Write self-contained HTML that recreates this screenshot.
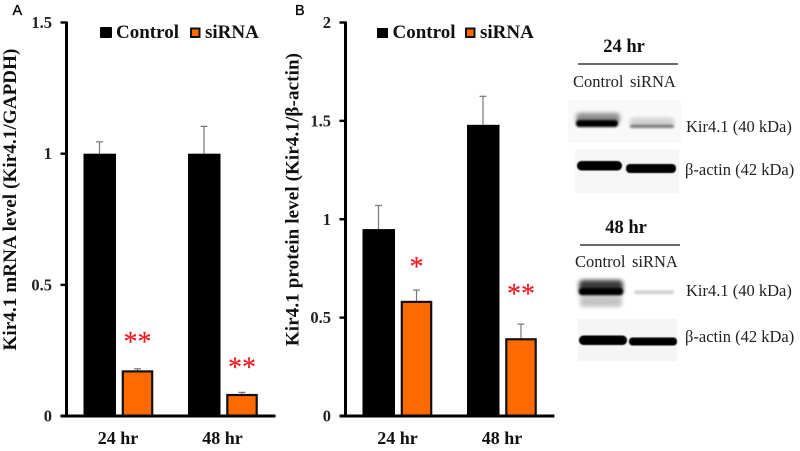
<!DOCTYPE html>
<html lang="en">
<head>
<meta charset="utf-8">
<title>Kir4.1 knockdown</title>
<style>
html,body{margin:0;padding:0;background:#fff;width:800px;height:451px;overflow:hidden}
svg{display:block;filter:blur(0.35px)}
text{font-family:"Liberation Serif",serif}
.b{font-weight:bold;fill:#111;letter-spacing:.12px}
.tick{font-weight:bold;font-size:16.5px;fill:#222}
.cat{font-weight:bold;font-size:18px;fill:#111}
.leg{font-weight:bold;font-size:19px;fill:#111}
.ttl{font-weight:bold;font-size:18.5px;fill:#111}
.pl{font-family:"Liberation Sans",sans-serif;font-size:14.5px;fill:#000;stroke:#000;stroke-width:.3}
.blot{font-size:16.5px;fill:#222}
.star{font-size:28px;fill:#f01c24;stroke:#f01c24;stroke-width:.2}
</style>
</head>
<body>
<svg id="fig" xmlns="http://www.w3.org/2000/svg" width="800" height="451" viewBox="0 0 800 451">
<defs>
<filter id="b1" x="-20%" y="-100%" width="140%" height="300%"><feGaussianBlur stdDeviation="1"/></filter>
<filter id="b2" x="-20%" y="-100%" width="140%" height="300%"><feGaussianBlur stdDeviation="2"/></filter>
<filter id="b3" x="-20%" y="-100%" width="140%" height="300%"><feGaussianBlur stdDeviation="0.6"/></filter>
</defs>

<text class="pl" x="12.5" y="15">A</text>
<text class="pl" x="295" y="15">B</text>

<g id="chartA"></g>
<g id="chartB"></g>

<g>
  <rect x="100" y="27" width="12" height="11" rx="1" fill="#000"/>
  <text class="leg" x="116" y="38">Control</text>
  <rect x="191" y="28.5" width="8.5" height="8.5" fill="#ff6a00" stroke="#111" stroke-width="2"/>
  <text class="leg" x="205" y="38">siRNA</text>
</g>
<g>
  <rect x="377" y="28" width="11" height="10" fill="#000"/>
  <text class="leg" x="392.5" y="38">Control</text>
  <rect x="466" y="28.5" width="8.5" height="8.5" fill="#ff6a00" stroke="#111" stroke-width="2"/>
  <text class="leg" x="480" y="38">siRNA</text>
</g>

<!-- Western blot 24 hr -->
<g>
  <text class="ttl" x="624" y="52" text-anchor="middle">24 hr</text>
  <line x1="578" x2="678" y1="64" y2="64" stroke="#111" stroke-width="1.3"/>
  <text class="blot" x="573" y="87">Control</text>
  <text class="blot" x="630" y="87">siRNA</text>
  <g>
    <rect x="568" y="100" width="113" height="43" fill="#f9f9f9"/>
    <rect x="576" y="113" width="44" height="11" rx="4" fill="#8e8e8e" filter="url(#b2)"/>
    <rect x="576" y="120" width="42" height="7" rx="3" fill="#000" filter="url(#b1)"/>
    <rect x="630" y="118" width="44" height="8" rx="3" fill="#cfcfcf" filter="url(#b2)"/>
    <rect x="630" y="124.5" width="44" height="3.5" rx="1.5" fill="#808080" filter="url(#b1)"/>
  </g>
  <g>
    <rect x="575" y="149" width="104" height="44" fill="#f6f6f6"/>
    <rect x="577" y="161" width="45" height="9.5" rx="4.5" fill="#000" filter="url(#b3)"/>
    <rect x="626" y="164" width="50" height="9" rx="4" fill="#000" filter="url(#b3)"/>
  </g>
  <text class="blot" x="686" y="132">Kir4.1 (40 kDa)</text>
  <text class="blot" x="685" y="175">β-actin (42 kDa)</text>
</g>

<!-- Western blot 48 hr -->
<g>
  <text class="ttl" x="626" y="233" text-anchor="middle">48 hr</text>
  <line x1="580" x2="680" y1="245" y2="245" stroke="#111" stroke-width="1.3"/>
  <text class="blot" x="575" y="267">Control</text>
  <text class="blot" x="632" y="267">siRNA</text>
  <g>
    <rect x="579" y="280" width="44" height="15" rx="4" fill="#3a3a3a" filter="url(#b2)"/>
    <rect x="580" y="296" width="42" height="11" rx="3" fill="#c4c4c4" filter="url(#b2)"/>
    <rect x="579" y="288" width="44" height="7" rx="3" fill="#000" filter="url(#b1)"/>
    <rect x="634" y="290.5" width="40" height="3.5" rx="1.5" fill="#cccccc" filter="url(#b1)"/>
  </g>
  <g>
    <rect x="578" y="319" width="99" height="42" fill="#f5f5f5"/>
    <rect x="579" y="335.5" width="48" height="9.5" rx="4.5" fill="#000" filter="url(#b3)"/>
    <rect x="629" y="337.5" width="48" height="8" rx="3.5" fill="#000" filter="url(#b3)"/>
  </g>
  <text class="blot" x="686" y="296">Kir4.1 (40 kDa)</text>
  <text class="blot" x="685" y="342">β-actin (42 kDa)</text>
</g>

<script>
var categories = ["24 hr", "48 hr"];
var mrnaControl = [1, 1];
var mrnaControlErr = [0.045, 0.104];
var mrnaSirna = [0.17, 0.08];
var mrnaSirnaErr = [0.01, 0.01];
var mrnaStars = ["**", "**"];
var mrnaTicks = [0, 0.5, 1, 1.5];
var proteinControl = [0.95, 1.48];
var proteinControlErr = [0.12, 0.145];
var proteinSirna = [0.58, 0.39];
var proteinSirnaErr = [0.06, 0.077];
var proteinStars = ["*", "**"];
var proteinTicks = [0, 0.5, 1, 1.5, 2];

var NS = 'http://www.w3.org/2000/svg';
function mk(parent, tag, attrs, txt) {
  var el = document.createElementNS(NS, tag);
  for (var k in attrs) el.setAttribute(k, attrs[k]);
  if (txt !== undefined) el.textContent = txt;
  parent.appendChild(el);
  return el;
}
function drawChart(o) {
  var g = document.getElementById(o.id);
  var y0 = 416, yTop = 22.5;
  var maxV = o.ticks[o.ticks.length - 1];
  function yS(v) { return y0 - (v / maxV) * (y0 - yTop); }
  function band(i) { return o.x0 + i * o.step; }

  o.control.forEach(function (v, i) {
    var x = band(i);
    var cx = x + 16;
    var err = mk(g, 'line', {x1: cx, x2: cx, y1: yS(v), y2: yS(v + o.controlErr[i]), stroke: '#777', 'stroke-width': 1.2});
    
    
    var cap = mk(g, 'line', {x1: cx - 3.5, x2: cx + 3.5, y1: yS(v + o.controlErr[i]), y2: yS(v + o.controlErr[i]), stroke: '#777', 'stroke-width': 1.2});
    
    
    var bar = mk(g, 'rect', {x: x, y: yS(v), width: 32.5, height: y0 - yS(v), fill: '#000'});
    
    
  });
  o.sirna.forEach(function (v, i) {
    var x = band(i) + 39.3;
    var cx = x + 14.7;
    var err = mk(g, 'line', {x1: cx, x2: cx, y1: yS(v), y2: yS(v + o.sirnaErr[i]), stroke: '#777', 'stroke-width': 1.2});
    
    
    var cap = mk(g, 'line', {x1: cx - 3.5, x2: cx + 3.5, y1: yS(v + o.sirnaErr[i]), y2: yS(v + o.sirnaErr[i]), stroke: '#777', 'stroke-width': 1.2});
    
    
    var bar = mk(g, 'rect', {x: x, y: yS(v), width: 29.4, height: y0 - yS(v), fill: '#ff6a00', stroke: '#111', 'stroke-width': 2.2});
    
    
    var star = mk(g, 'text', {class: 'star', x: cx, y: yS(v + o.sirnaErr[i]) - o.starGap[i], 'text-anchor': 'middle'}, o.stars[i]);
    
    
  });

  var axY = mk(g, 'line', {x1: o.axis, x2: o.axis, y1: yTop - 1, y2: y0 + 1.5, stroke: '#000', 'stroke-width': 3});
  
  
  var axX = mk(g, 'line', {x1: o.axis - 6, x2: o.axis + 209, y1: y0, y2: y0, stroke: '#000', 'stroke-width': 3});
  
  

  o.ticks.forEach(function (t) {
    var mark = mk(g, 'line', {x1: o.axis - 6, x2: o.axis, y1: yS(t), y2: yS(t), stroke: '#000', 'stroke-width': 2.4});
    
    
    var lab = mk(g, 'text', {class: 'tick', x: o.axis - 14.5, y: yS(t) + 5.5, 'text-anchor': 'end'}, String(t));
    
    
  });
  categories.forEach(function (c, i) {
    var lab = mk(g, 'text', {class: 'cat', x: band(i) + o.catOff, y: 444, 'text-anchor': 'middle'}, c);
    
    
  });
  var title = mk(g, 'text', {class: 'b', 'font-size': 19, 'text-anchor': 'middle',
    transform: 'translate(' + o.titleX + ',' + o.titleY + ') rotate(-90)'}, o.title);
  
  
}
drawChart({id: 'chartA', x0: 83.5, step: 104.5, axis: 66.5, catOff: 34.5, ticks: mrnaTicks,
  control: mrnaControl, controlErr: mrnaControlErr, sirna: mrnaSirna, sirnaErr: mrnaSirnaErr,
  stars: mrnaStars, starGap: [18, 16], title: 'Kir4.1 mRNA level (Kir4.1/GAPDH)', titleX: 16, titleY: 199.5});
drawChart({id: 'chartB', x0: 362.5, step: 104.5, axis: 345.5, catOff: 35, ticks: proteinTicks,
  control: proteinControl, controlErr: proteinControlErr, sirna: proteinSirna, sirnaErr: proteinSirnaErr,
  stars: proteinStars, starGap: [14, 21], title: 'Kir4.1 protein level (Kir4.1/β-actin)', titleX: 298.5, titleY: 199.5});
</script>
</svg>
</body>
</html>
